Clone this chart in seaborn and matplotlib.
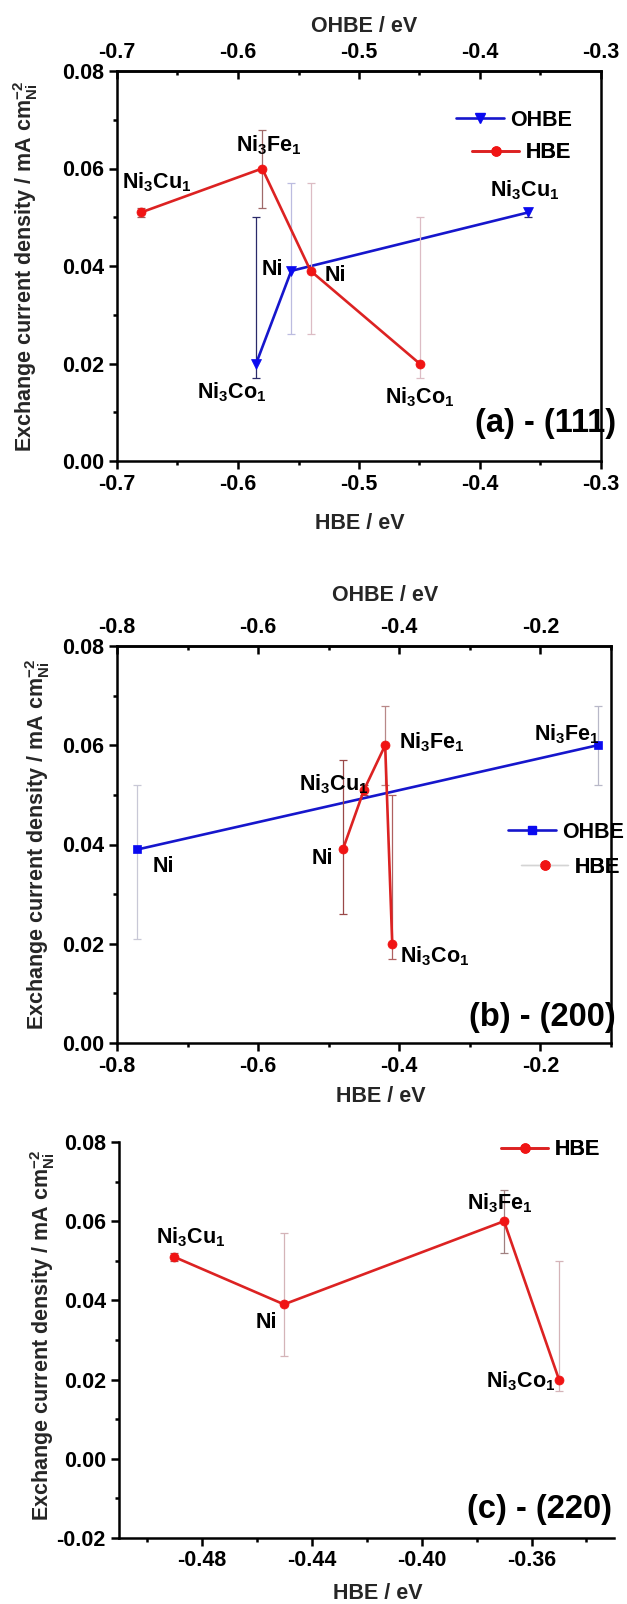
import matplotlib
matplotlib.use("Agg")
import matplotlib.pyplot as plt
import seaborn as sns
from matplotlib.lines import Line2D
from matplotlib.ticker import MultipleLocator, FormatStrFormatter

# ---------------- data ----------------
# (a) (111)
a_hbe_names = ["Ni$_3$Cu$_1$", "Ni$_3$Fe$_1$", "Ni", "Ni$_3$Co$_1$"]
a_hbe_x = [-0.68, -0.58, -0.54, -0.45]
a_hbe_y = [0.051, 0.060, 0.039, 0.020]
a_hbe_lo = [0.001, 0.008, 0.013, 0.003]
a_hbe_hi = [0.001, 0.008, 0.018, 0.030]
a_ohbe_names = ["Ni$_3$Co$_1$", "Ni", "Ni$_3$Cu$_1$"]
a_ohbe_x = [-0.585, -0.556, -0.36]
a_ohbe_y = [0.020, 0.039, 0.051]
a_ohbe_lo = [0.003, 0.013, 0.001]
a_ohbe_hi = [0.030, 0.018, 0.001]

# (b) (200)
b_hbe_names = ["Ni", "Ni$_3$Cu$_1$", "Ni$_3$Fe$_1$", "Ni$_3$Co$_1$"]
b_hbe_x = [-0.48, -0.45, -0.42, -0.41]
b_hbe_y = [0.039, 0.051, 0.060, 0.020]
b_hbe_lo = [0.013, 0.001, 0.008, 0.003]
b_hbe_hi = [0.018, 0.001, 0.008, 0.030]
b_ohbe_names = ["Ni", "Ni$_3$Fe$_1$"]
b_ohbe_x = [-0.771, -0.119]
b_ohbe_y = [0.039, 0.060]
b_ohbe_lo = [0.018, 0.008]
b_ohbe_hi = [0.013, 0.008]

# (c) (220)
c_hbe_names = ["Ni$_3$Cu$_1$", "Ni", "Ni$_3$Fe$_1$", "Ni$_3$Co$_1$"]
c_hbe_x = [-0.49, -0.45, -0.37, -0.35]
c_hbe_y = [0.051, 0.039, 0.060, 0.020]
c_hbe_lo = [0.001, 0.013, 0.008, 0.003]
c_hbe_hi = [0.001, 0.018, 0.008, 0.030]

panel_titles = ["(a) - (111)", "(b) - (200)", "(c) - (220)"]

# ---------------- styles ----------------
RED_LINE, RED_MK = "#dc2222", "#f01414"
BLUE_LINE, BLUE_MK = "#1616cc", "#0a0af0"

a_hbe_ec = ["#a05a5a", "#a06a6a", "#dcbcc4", "#dcbcc4"]
a_ohbe_ec = ["#2a2a6a", "#bcbce0", "#2a2a6a"]
b_hbe_ec = ["#9a4848", "#9a4848", "#b88888", "#b06060"]
b_ohbe_ec = ["#c8c8d6", "#b8b8c8"]
c_hbe_ec = ["#a05a5a", "#d4b4b8", "#a08080", "#d4b4b8"]

# label offsets in pixels (dx, dy, ha)
a_hbe_off = [(16, 24, "center"), (7, 17, "center"), (14, -10, "left"), (0, -40, "center")]
a_ohbe_off = [(-24, -35, "center"), (-8, -4, "right"), (-4, 16, "center")]
b_hbe_off = [(-20, -15, "center"), (-30, 0, "center"), (14, -3, "left"), (8, -19, "left")]
b_ohbe_off = [(15, -23, "left"), (2, 5, "right")]
c_hbe_off = [(17, 13, "center"), (-18, -24, "center"), (-4, 12, "center"), (-3, -8, "right")]

sns.set_theme(style="ticks")
plt.rcParams["font.family"] = ["Liberation Sans", "DejaVu Sans"]
plt.rcParams["font.weight"] = "bold"
plt.rcParams["axes.labelweight"] = "bold"
plt.rcParams["mathtext.fontset"] = "custom"
plt.rcParams["mathtext.rm"] = "Liberation Sans:bold"
plt.rcParams["mathtext.it"] = "Liberation Sans:bold"
plt.rcParams["mathtext.bf"] = "Liberation Sans:bold"
plt.rcParams["mathtext.sf"] = "Liberation Sans:bold"
plt.rcParams["mathtext.default"] = "rm"
plt.rcParams["axes.unicode_minus"] = False
plt.rcParams["axes.edgecolor"] = "black"
plt.rcParams["xtick.color"] = "black"
plt.rcParams["ytick.color"] = "black"
plt.rcParams["text.color"] = "black"

FS = 15.5
YLABEL = r"Exchange current density / mA cm$^{-2}_{Ni}$"

fig = plt.figure(figsize=(6.27, 16.04), dpi=100)
W, H = 627.0, 1604.0


def box(l, t, r, b):
    return [l / W, 1 - b / H, (r - l) / W, (b - t) / H]


def draw_series(ax, xs, ys, lo, hi, ecs, lc, mc, marker, ms):
    for xi, yi, l, h, ec in zip(xs, ys, lo, hi, ecs):
        ax.errorbar([xi], [yi], yerr=[[l], [h]], fmt="none", ecolor=ec,
                    elinewidth=0.9, capsize=2.6, capthick=0.9, zorder=1)
    sns.lineplot(x=xs, y=ys, ax=ax, sort=False, estimator=None, color=lc,
                 linewidth=1.9, marker=marker, markersize=ms,
                 markerfacecolor=mc, markeredgecolor=mc, markeredgewidth=0.5,
                 legend=False, zorder=3)


def annotate(ax, names, xs, ys, offs):
    for n, xi, yi, (dx, dy, ha) in zip(names, xs, ys, offs):
        ax.annotate(n, (xi, yi), xytext=(dx, dy), textcoords="offset pixels",
                    ha=ha, va="baseline", fontsize=FS, fontweight="bold",
                    zorder=5, annotation_clip=False)


def style_axis(ax, xmaj, xmin, xfmt, ylim, ymaj=0.02, ymin=0.01):
    ax.set_ylim(*ylim)
    ax.xaxis.set_major_locator(MultipleLocator(xmaj))
    ax.xaxis.set_minor_locator(MultipleLocator(xmin))
    ax.xaxis.set_major_formatter(FormatStrFormatter(xfmt))
    ax.yaxis.set_major_locator(MultipleLocator(ymaj))
    ax.yaxis.set_minor_locator(MultipleLocator(ymin))
    ax.yaxis.set_major_formatter(FormatStrFormatter("%.2f"))
    ax.tick_params(axis="both", which="major", direction="out", length=6,
                   width=1.8, labelsize=FS, top=False, right=False)
    ax.tick_params(axis="both", which="minor", direction="out", length=3,
                   width=1.8, top=False, right=False)
    ax.tick_params(axis="y", which="major", pad=3.5)
    ax.tick_params(axis="x", which="major", pad=3)
    for s in ax.spines.values():
        s.set_linewidth(1.8)
        s.set_color("black")


def style_top(ax2, xmaj, xmin, xfmt):
    ax2.xaxis.set_major_locator(MultipleLocator(xmaj))
    ax2.xaxis.set_minor_locator(MultipleLocator(xmin))
    ax2.xaxis.set_major_formatter(FormatStrFormatter(xfmt))
    ax2.tick_params(axis="x", which="major", direction="in", length=6,
                    width=1.8, labelsize=FS, top=True, bottom=False,
                    labeltop=True, labelbottom=False, pad=5.5)
    ax2.tick_params(axis="x", which="minor", direction="in", length=3,
                    width=1.8, top=True, bottom=False)
    for name, s in ax2.spines.items():
        if name == "top":
            s.set_linewidth(1.8)
            s.set_color("black")
        else:
            s.set_visible(False)


def add_leg(ax, handle, label, x, y):
    leg = ax.legend(handles=[handle], labels=[label], loc="center right",
                    bbox_to_anchor=(x, y), bbox_transform=ax.transAxes,
                    frameon=False, borderpad=0, borderaxespad=0,
                    handlelength=2.2, handletextpad=0.3,
                    prop={"size": FS, "weight": "bold"})
    ax.add_artist(leg)


def set_labels(ax, xl_pos, yl_pos):
    ax.set_xlabel("HBE / eV", fontsize=FS, fontweight="bold")
    ax.xaxis.set_label_coords(*xl_pos)
    ax.xaxis.label.set_va("center")
    ax.set_ylabel(YLABEL, fontsize=FS, fontweight="bold")
    ax.yaxis.set_label_coords(*yl_pos)
    ax.yaxis.label.set_va("center")


# ---------------- panel (a) ----------------
axA = fig.add_axes(box(117, 71, 601, 461))
axA2 = axA.twiny()
axA.set_zorder(axA2.get_zorder() + 1)
axA.patch.set_visible(False)
draw_series(axA, a_hbe_x, a_hbe_y, a_hbe_lo, a_hbe_hi, a_hbe_ec,
            RED_LINE, RED_MK, "o", 6.5)
draw_series(axA2, a_ohbe_x, a_ohbe_y, a_ohbe_lo, a_ohbe_hi, a_ohbe_ec,
            BLUE_LINE, BLUE_MK, "v", 7)
style_axis(axA, 0.1, 0.05, "%.1f", (0, 0.08))
style_top(axA2, 0.1, 0.05, "%.1f")
axA.set_xlim(-0.7, -0.3)
axA2.set_xlim(-0.7, -0.3)
axA.set_ylim(0, 0.08)
annotate(axA, a_hbe_names, a_hbe_x, a_hbe_y, a_hbe_off)
annotate(axA2, a_ohbe_names, a_ohbe_x, a_ohbe_y, a_ohbe_off)
set_labels(axA, (0.502, -0.159), (-0.188, 0.5))
axA2.set_xlabel("OHBE / eV", fontsize=FS, fontweight="bold")
axA2.xaxis.set_label_coords(0.51, 1.115)
axA2.xaxis.label.set_va("center")
add_leg(axA, Line2D([0], [0], color=BLUE_LINE, lw=1.9, marker="v", ms=7,
                    mfc=BLUE_MK, mec=BLUE_MK), "OHBE", 0.940, 0.874)
add_leg(axA, Line2D([0], [0], color=RED_LINE, lw=1.9, marker="o", ms=6.5,
                    mfc=RED_MK, mec=RED_MK), "HBE", 0.938, 0.790)
axA.text(1.031, 0.097, panel_titles[0], transform=axA.transAxes, ha="right",
         va="center", fontsize=23.5, fontweight="bold", clip_on=False)

# ---------------- panel (b) ----------------
axB = fig.add_axes(box(117, 646, 611, 1043))
axB2 = axB.twiny()
axB.set_zorder(axB2.get_zorder() + 1)
axB.patch.set_visible(False)
draw_series(axB, b_hbe_x, b_hbe_y, b_hbe_lo, b_hbe_hi, b_hbe_ec,
            RED_LINE, RED_MK, "o", 6.5)
draw_series(axB2, b_ohbe_x, b_ohbe_y, b_ohbe_lo, b_ohbe_hi, b_ohbe_ec,
            BLUE_LINE, BLUE_MK, "s", 5.8)
style_axis(axB, 0.2, 0.1, "%.1f", (0, 0.08))
style_top(axB2, 0.2, 0.1, "%.1f")
axB.set_xlim(-0.8, -0.1)
axB2.set_xlim(-0.8, -0.1)
axB.set_ylim(0, 0.08)
annotate(axB, b_hbe_names, b_hbe_x, b_hbe_y, b_hbe_off)
annotate(axB2, b_ohbe_names, b_ohbe_x, b_ohbe_y, b_ohbe_off)
set_labels(axB, (0.534, -0.136), (-0.160, 0.5))
axB2.set_xlabel("OHBE / eV", fontsize=FS, fontweight="bold")
axB2.xaxis.set_label_coords(0.543, 1.126)
axB2.xaxis.label.set_va("center")
add_leg(axB, Line2D([0], [0], color=BLUE_LINE, lw=1.9, marker="s", ms=5.8,
                    mfc=BLUE_MK, mec=BLUE_MK), "OHBE", 1.026, 0.531)
add_leg(axB, Line2D([0], [0], color="#d4d4d4", lw=1.0, marker="o", ms=6.5,
                    mfc=RED_MK, mec=RED_MK), "HBE", 1.018, 0.443)
axB.text(1.010, 0.063, panel_titles[1], transform=axB.transAxes, ha="right",
         va="center", fontsize=23.5, fontweight="bold", clip_on=False)

# ---------------- panel (c) ----------------
axC = fig.add_axes(box(119, 1142, 614, 1538))
draw_series(axC, c_hbe_x, c_hbe_y, c_hbe_lo, c_hbe_hi, c_hbe_ec,
            RED_LINE, RED_MK, "o", 6.5)
style_axis(axC, 0.04, 0.02, "%.2f", (-0.02, 0.08))
axC.set_xlim(-0.51, -0.33)
axC.set_ylim(-0.02, 0.08)
axC.spines["top"].set_visible(False)
axC.spines["right"].set_visible(False)
annotate(axC, c_hbe_names, c_hbe_x, c_hbe_y, c_hbe_off)
set_labels(axC, (0.522, -0.141), (-0.155, 0.511))
add_leg(axC, Line2D([0], [0], color=RED_LINE, lw=1.9, marker="o", ms=6.5,
                    mfc=RED_MK, mec=RED_MK), "HBE", 0.972, 0.980)
axC.text(0.996, 0.071, panel_titles[2], transform=axC.transAxes, ha="right",
         va="center", fontsize=23.5, fontweight="bold", clip_on=False)

fig.savefig("out.png", dpi=100)
